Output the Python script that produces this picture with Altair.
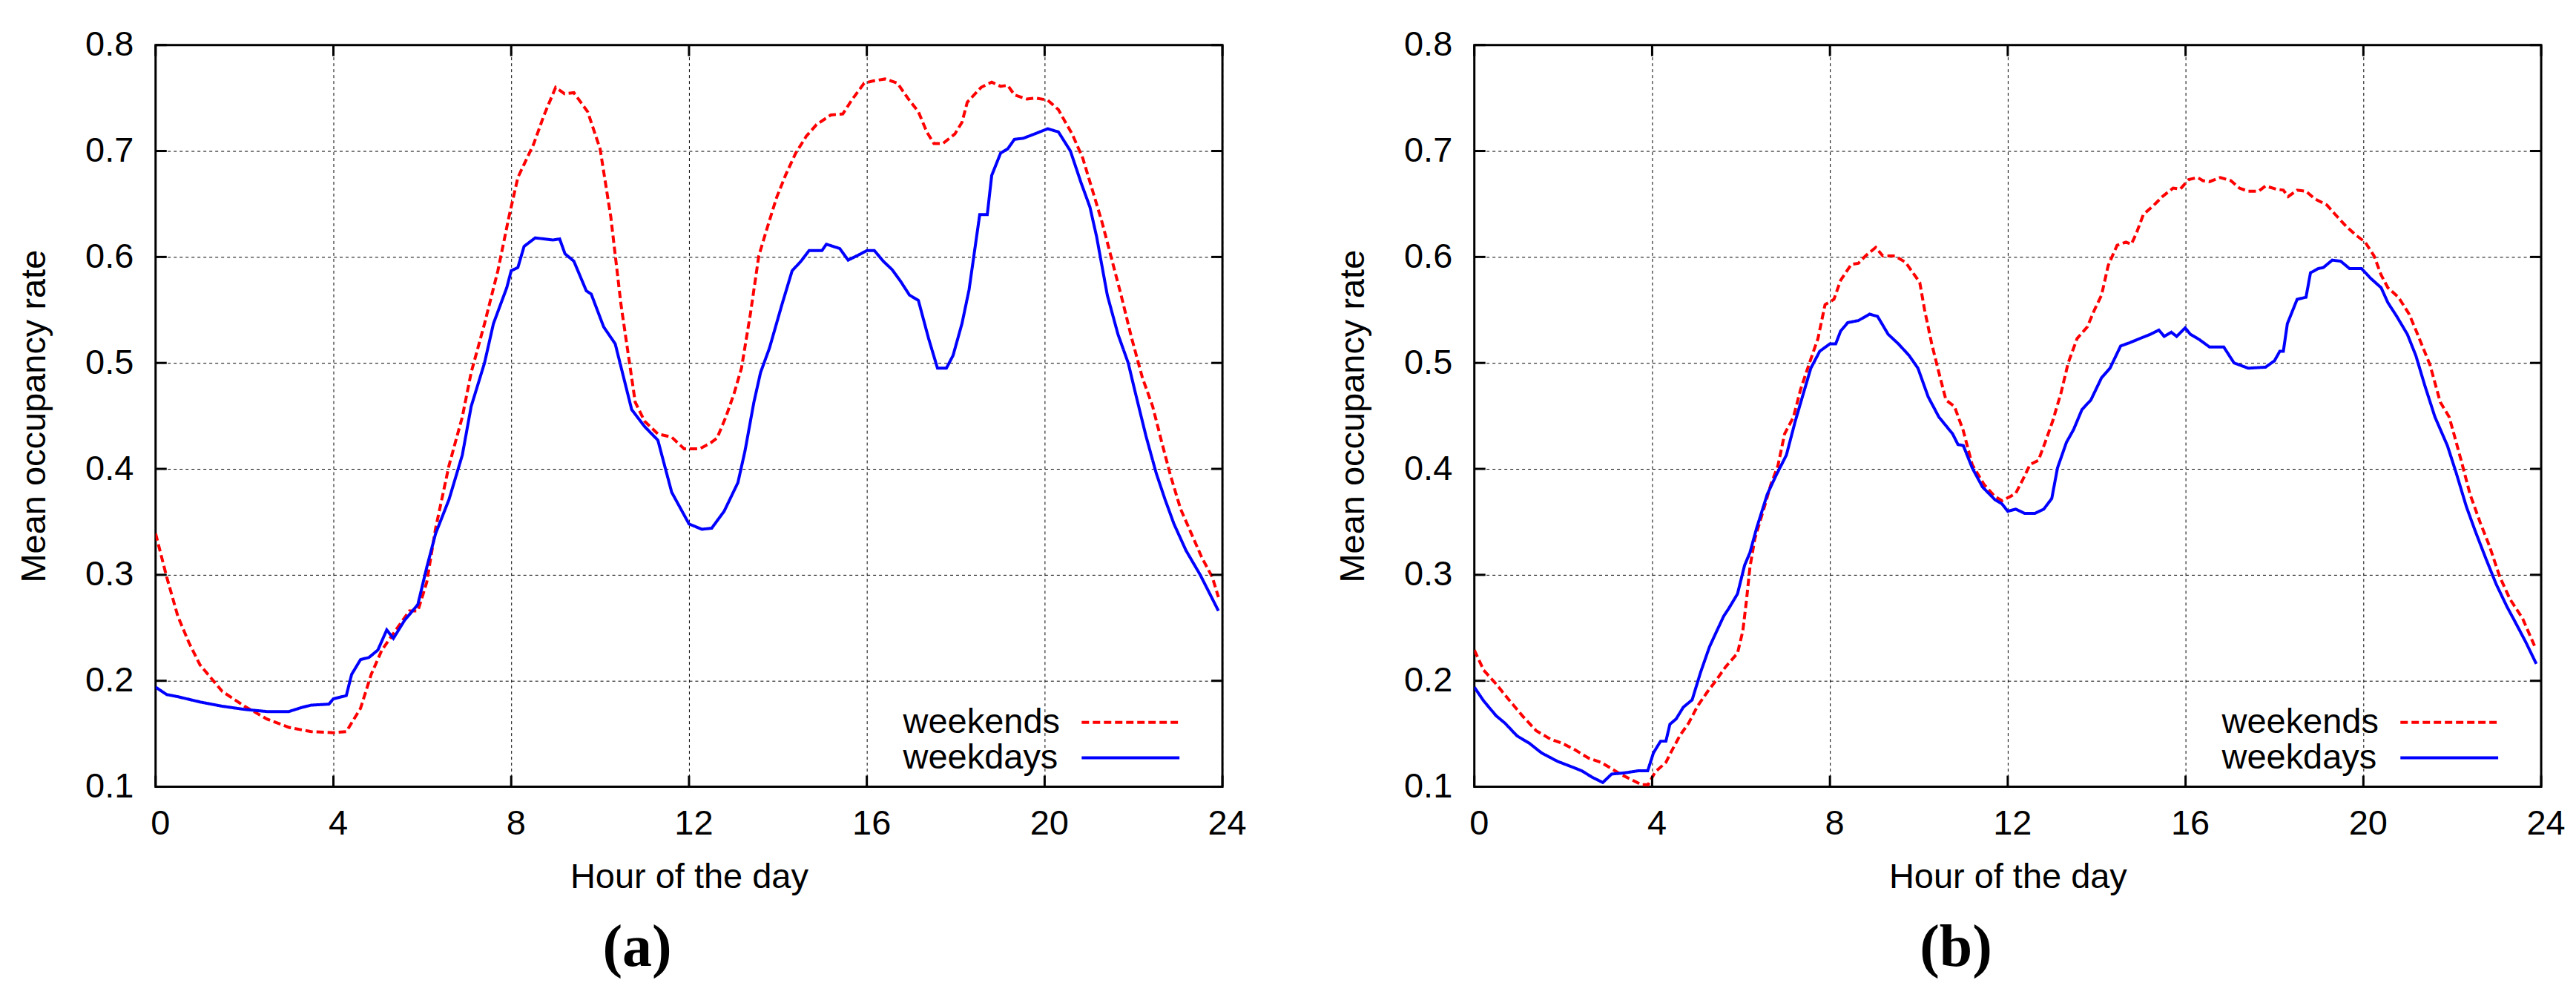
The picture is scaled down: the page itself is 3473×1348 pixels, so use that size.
import altair as alt
import pandas as pd

# ---------------- data ----------------
# Panel (a) weekdays
A_WD_H = [0, 0.25, 0.5, 1.0, 1.5, 2.0, 2.5, 3.0, 3.3, 3.5, 3.9, 4.0, 4.29, 4.41, 4.61, 4.8, 5.0, 5.2, 5.35,
          5.6, 5.9, 6.1, 6.3, 6.6, 6.9, 7.1, 7.4, 7.6, 7.9, 8.0, 8.15, 8.29, 8.54, 8.94, 9.09, 9.21, 9.41,
          9.69, 9.8, 10.08, 10.34, 10.71, 11.0, 11.3, 11.61, 12.0, 12.29, 12.51, 12.79, 13.10, 13.26, 13.46,
          13.61, 13.81, 14.09, 14.32, 14.52, 14.70, 14.99, 15.09, 15.39, 15.58, 15.82, 16.0, 16.17, 16.37,
          16.57, 16.76, 16.96, 17.16, 17.39, 17.59, 17.79, 17.94, 18.14, 18.30, 18.54, 18.71, 18.81, 19.01,
          19.17, 19.32, 19.52, 19.83, 20.07, 20.31, 20.58, 20.82, 21.02, 21.17, 21.41, 21.65, 21.88, 22.04,
          22.28, 22.51, 22.71, 22.91, 23.18, 23.5, 23.91]
A_WD_V = [0.194, 0.187, 0.185, 0.180, 0.176, 0.173, 0.171, 0.171, 0.175, 0.177, 0.178, 0.183, 0.186, 0.206,
          0.220, 0.222, 0.229, 0.248, 0.240, 0.257, 0.272, 0.307, 0.339, 0.371, 0.413, 0.459, 0.500, 0.537,
          0.571, 0.587, 0.590, 0.610, 0.618, 0.616, 0.617, 0.603, 0.596, 0.568, 0.565, 0.534, 0.518, 0.456,
          0.440, 0.427, 0.378, 0.348, 0.343, 0.344, 0.360, 0.387, 0.417, 0.463, 0.491, 0.514, 0.555, 0.587,
          0.596, 0.606, 0.606, 0.612, 0.608, 0.597, 0.602, 0.606, 0.606, 0.596, 0.588, 0.577, 0.564, 0.559,
          0.523, 0.495, 0.495, 0.507, 0.537, 0.569, 0.640, 0.640, 0.677, 0.698, 0.702, 0.711, 0.712, 0.717,
          0.721, 0.718, 0.700, 0.670, 0.647, 0.619, 0.564, 0.527, 0.500, 0.472, 0.431, 0.396, 0.371, 0.348,
          0.323, 0.300, 0.266]

# Panel (a) weekends
A_WE_H = [0, 0.25, 0.5, 0.75, 1.0, 1.5, 2.0, 2.5, 3.0, 3.5, 4.0, 4.29, 4.61, 4.85, 5.09, 5.39, 5.71, 5.9,
          6.1, 6.3, 6.6, 6.9, 7.1, 7.4, 7.7, 7.95, 8.15, 8.5, 8.74, 9.0, 9.2, 9.41, 9.72, 10.0, 10.24, 10.47,
          10.79, 11.0, 11.3, 11.61, 11.89, 12.0, 12.24, 12.47, 12.63, 12.83, 13.02, 13.18, 13.38, 13.57,
          13.77, 13.97, 14.17, 14.4, 14.64, 14.87, 15.19, 15.46, 15.66, 15.94, 16.13, 16.41, 16.69, 16.92,
          17.16, 17.35, 17.51, 17.71, 17.98, 18.14, 18.26, 18.57, 18.81, 19.01, 19.17, 19.32, 19.6, 19.8,
          20.07, 20.31, 20.47, 20.62, 20.86, 21.09, 21.29, 21.49, 21.72, 21.96, 22.2, 22.43, 22.63, 22.83,
          23.06, 23.3, 23.54, 23.77, 23.91]
A_WE_V = [0.339, 0.298, 0.261, 0.236, 0.215, 0.190, 0.176, 0.164, 0.156, 0.152, 0.151, 0.152, 0.174, 0.206,
          0.229, 0.247, 0.266, 0.266, 0.293, 0.344, 0.403, 0.449, 0.491, 0.537, 0.587, 0.638, 0.675, 0.706,
          0.734, 0.760, 0.754, 0.755, 0.737, 0.702, 0.638, 0.555, 0.463, 0.445, 0.433, 0.430, 0.419, 0.419,
          0.419, 0.424, 0.429, 0.449, 0.472, 0.495, 0.546, 0.601, 0.629, 0.656, 0.677, 0.698, 0.714, 0.725,
          0.734, 0.735, 0.748, 0.764, 0.766, 0.768, 0.764, 0.750, 0.737, 0.718, 0.707, 0.707, 0.716, 0.727,
          0.746, 0.760, 0.765, 0.761, 0.762, 0.753, 0.749, 0.750, 0.748, 0.739, 0.727, 0.716, 0.693, 0.661,
          0.633, 0.601, 0.564, 0.523, 0.486, 0.459, 0.426, 0.394, 0.362, 0.339, 0.316, 0.298, 0.279]

# Panel (b) weekdays
B_WD_H = [0, 0.21, 0.49, 0.69, 0.96, 1.24, 1.51, 1.87, 2.18, 2.42, 2.65, 2.89, 3.09, 3.36, 3.68, 3.9, 4.03,
          4.19, 4.31, 4.4, 4.54, 4.7, 4.9, 5.09, 5.29, 5.41, 5.61, 5.72, 5.92, 6.08, 6.2, 6.35, 6.59, 6.79,
          7.02, 7.22, 7.38, 7.57, 7.77, 8.0, 8.13, 8.24, 8.4, 8.64, 8.89, 9.07, 9.31, 9.54, 9.78, 9.98, 10.21,
          10.45, 10.76, 10.88, 11.0, 11.2, 11.43, 11.71, 11.87, 12.0, 12.18, 12.38, 12.61, 12.81, 12.99,
          13.12, 13.32, 13.48, 13.67, 13.87, 14.11, 14.3, 14.54, 14.74, 14.97, 15.21, 15.4, 15.52, 15.68,
          15.8, 15.99, 16.11, 16.31, 16.54, 16.86, 17.09, 17.41, 17.8, 18.0, 18.12, 18.2, 18.29, 18.51, 18.71,
          18.81, 18.98, 19.1, 19.3, 19.49, 19.69, 19.96, 20.16, 20.4, 20.55, 20.75, 20.99, 21.18, 21.38,
          21.61, 21.89, 22.09, 22.32, 22.52, 22.75, 22.99, 23.23, 23.46, 23.66, 23.89]
B_WD_V = [0.194, 0.181, 0.167, 0.160, 0.148, 0.141, 0.132, 0.124, 0.119, 0.115, 0.109, 0.104, 0.112, 0.113,
          0.115, 0.115, 0.132, 0.143, 0.143, 0.159, 0.164, 0.175, 0.182, 0.208, 0.232, 0.243, 0.261, 0.268,
          0.282, 0.309, 0.321, 0.344, 0.376, 0.394, 0.413, 0.445, 0.468, 0.495, 0.511, 0.518, 0.518, 0.530,
          0.538, 0.540, 0.546, 0.544, 0.527, 0.518, 0.507, 0.495, 0.468, 0.449, 0.433, 0.423, 0.422, 0.401,
          0.383, 0.371, 0.367, 0.360, 0.362, 0.358, 0.358, 0.362, 0.372, 0.401, 0.425, 0.437, 0.456, 0.465,
          0.486, 0.495, 0.516, 0.519, 0.523, 0.527, 0.531, 0.525, 0.529, 0.525, 0.533, 0.527, 0.522, 0.515,
          0.515, 0.500, 0.495, 0.496, 0.502, 0.511, 0.511, 0.537, 0.560, 0.562, 0.585, 0.589, 0.590, 0.597,
          0.596, 0.589, 0.589, 0.580, 0.571, 0.557, 0.544, 0.527, 0.507, 0.479, 0.449, 0.422, 0.396, 0.364,
          0.341, 0.316, 0.291, 0.270, 0.252, 0.236, 0.216]

# Panel (b) weekends
B_WE_H = [0, 0.21, 0.49, 0.76, 1.08, 1.39, 1.71, 1.98, 2.26, 2.57, 2.85, 3.05, 3.28, 3.52, 3.76, 3.91, 4.07,
          4.31, 4.43, 4.62, 4.82, 5.02, 5.25, 5.45, 5.65, 5.92, 6.04, 6.12, 6.2, 6.31, 6.51, 6.67, 6.83, 6.98,
          7.18, 7.34, 7.54, 7.73, 7.89, 8.09, 8.24, 8.48, 8.64, 8.8, 9.03, 9.19, 9.46, 9.7, 10.02, 10.13,
          10.29, 10.45, 10.61, 10.8, 11.0, 11.2, 11.47, 11.71, 11.87, 12.06, 12.18, 12.34, 12.5, 12.69, 12.85,
          13.01, 13.2, 13.36, 13.56, 13.79, 13.95, 14.11, 14.26, 14.46, 14.66, 14.78, 14.89, 15.05, 15.29,
          15.48, 15.72, 15.88, 16.07, 16.27, 16.39, 16.54, 16.78, 17.02, 17.21, 17.41, 17.64, 17.8, 18.04,
          18.2, 18.31, 18.51, 18.71, 18.9, 19.18, 19.37, 19.61, 19.85, 20.04, 20.24, 20.4, 20.55, 20.79,
          21.03, 21.22, 21.5, 21.73, 21.93, 22.05, 22.2, 22.4, 22.64, 22.83, 23.07, 23.3, 23.58, 23.85]
B_WE_V = [0.229, 0.210, 0.197, 0.183, 0.167, 0.153, 0.145, 0.141, 0.135, 0.127, 0.123, 0.118, 0.112, 0.107,
          0.102, 0.102, 0.114, 0.123, 0.133, 0.148, 0.160, 0.176, 0.190, 0.201, 0.213, 0.226, 0.247, 0.275,
          0.307, 0.334, 0.362, 0.385, 0.403, 0.433, 0.449, 0.475, 0.500, 0.523, 0.555, 0.560, 0.578, 0.593,
          0.594, 0.601, 0.609, 0.601, 0.601, 0.595, 0.576, 0.550, 0.518, 0.491, 0.465, 0.459, 0.436, 0.404,
          0.385, 0.374, 0.370, 0.374, 0.377, 0.390, 0.404, 0.408, 0.426, 0.445, 0.472, 0.500, 0.523, 0.534,
          0.550, 0.564, 0.592, 0.611, 0.614, 0.612, 0.622, 0.640, 0.649, 0.657, 0.665, 0.664, 0.673, 0.675,
          0.672, 0.671, 0.675, 0.672, 0.665, 0.662, 0.662, 0.667, 0.664, 0.663, 0.657, 0.663, 0.662, 0.655,
          0.649, 0.640, 0.629, 0.620, 0.614, 0.601, 0.583, 0.571, 0.562, 0.546, 0.527, 0.498, 0.463, 0.449,
          0.431, 0.408, 0.376, 0.348, 0.328, 0.298, 0.277, 0.259, 0.233]

X_TICKS = [0, 4, 8, 12, 16, 20, 24]
Y_TICKS = [0.1, 0.2, 0.3, 0.4, 0.5, 0.6, 0.7, 0.8]
SERIES = ["weekends", "weekdays"]
COLORS = ["#ff0000", "#0000ff"]
DASHES = [[10, 5], [1, 0]]
CAPTIONS = ["(a)", "(b)"]

# ---------------- styling ----------------
W, H = 1440, 1001
FONT = "Liberation Sans"
FS = 47
TICK_X = 15 / W * 24          # inward tick length, in hours
TICK_Y = 15 / H * 0.7         # inward tick length, in rate units
LEG_Y = 890                   # legend top, px inside the plot
LEG_ROW = 48                  # legend row height


def series_df(h, v, name):
    return pd.DataFrame({"hour": h, "rate": v, "series": name, "label": name})


def panel(we_h, we_v, wd_h, wd_v, caption):
    df = pd.concat([series_df(we_h, we_v, SERIES[0]), series_df(wd_h, wd_v, SERIES[1])])
    x = alt.X("hour:Q", scale=alt.Scale(domain=[0, 24], nice=False, zero=False),
              axis=alt.Axis(values=X_TICKS, format="d", title="Hour of the day", labelPadding=27,
                            labelFlush=False, labelOffset=6, titlePadding=26))
    y = alt.Y("rate:Q", scale=alt.Scale(domain=[0.1, 0.8], nice=False, zero=False),
              axis=alt.Axis(values=Y_TICKS, format=".1f", title="Mean occupancy rate",
                            labelPadding=30, titlePadding=44))

    # legend of line samples only (no text): colour + dash merged into one legend
    sym_legend = alt.Legend(orient="none", legendX=1248, legendY=LEG_Y, title=None,
                            symbolType="stroke", symbolSize=17424, symbolStrokeWidth=4,
                            symbolOpacity=1, labelExpr="''", labelFontSize=FS,
                            clipHeight=LEG_ROW, rowPadding=0, padding=0)
    # legend of texts only (invisible symbols), placed left of the samples
    txt_legend = alt.Legend(orient="none", legendX=958, legendY=LEG_Y, title=None,
                            symbolType="stroke", symbolSize=0, symbolStrokeWidth=0,
                            symbolStrokeColor="transparent", symbolFillColor="transparent",
                            labelFont=FONT, labelFontSize=FS, labelColor="black", labelAlign="left",
                            labelLimit=600, clipHeight=LEG_ROW, rowPadding=0, padding=0)

    color = alt.Color("series:N", scale=alt.Scale(domain=SERIES, range=COLORS), legend=sym_legend)
    dash = alt.StrokeDash("series:N", scale=alt.Scale(domain=SERIES, range=DASHES), legend=sym_legend)
    opac = alt.Opacity("label:O", sort=SERIES, scale=alt.Scale(range=[1, 1]), legend=txt_legend)

    base = alt.Chart(df).mark_line(strokeWidth=4, clip=True).encode(
        x=x, y=y, color=color, strokeDash=dash, opacity=opac)
    we = base.transform_filter(alt.datum.series == SERIES[0])
    wd = base.transform_filter(alt.datum.series == SERIES[1])

    xt = pd.DataFrame({"hour": X_TICKS})
    yt = pd.DataFrame({"rate": Y_TICKS})
    tick = dict(color="black", strokeWidth=3)
    t_bottom = alt.Chart(xt).mark_rule(**tick).encode(x=x, y=alt.datum(0.1), y2=alt.datum(0.1 + TICK_Y))
    t_top = alt.Chart(xt).mark_rule(**tick).encode(x=x, y=alt.datum(0.8), y2=alt.datum(0.8 - TICK_Y))
    t_left = alt.Chart(yt).mark_rule(**tick).encode(y=y, x=alt.datum(0), x2=alt.datum(TICK_X))
    t_right = alt.Chart(yt).mark_rule(**tick).encode(y=y, x=alt.datum(24), x2=alt.datum(24 - TICK_X))

    return alt.layer(we, wd, t_bottom, t_top, t_left, t_right).properties(
        width=W, height=H,
        title=alt.TitleParams(caption, orient="bottom", anchor="middle", frame="group",
                              font="Liberation Serif", fontSize=80, fontWeight="bold",
                              color="black", dx=-70, offset=34),
    )


chart = alt.hconcat(
    panel(A_WE_H, A_WE_V, A_WD_H, A_WD_V, CAPTIONS[0]),
    panel(B_WE_H, B_WE_V, B_WD_H, B_WD_V, CAPTIONS[1]),
    spacing=117,
).resolve_scale(
    color="independent", strokeDash="independent", opacity="independent",
).resolve_legend(
    color="independent", strokeDash="independent", opacity="independent",
).properties(
    padding={"left": 13, "top": 26, "right": 5, "bottom": 5},
    background="white",
).configure_view(
    stroke="black", strokeWidth=3,
).configure_axis(
    labelFont=FONT, titleFont=FONT, labelFontSize=FS, titleFontSize=FS,
    labelColor="black", titleColor="black", titleFontWeight="normal",
    grid=True, gridColor="black", gridDash=[4, 4], gridWidth=1, gridOpacity=1,
    tickSize=0, domain=False,
)

chart.save("out.html", embed_options={"renderer": "svg", "actions": False})
